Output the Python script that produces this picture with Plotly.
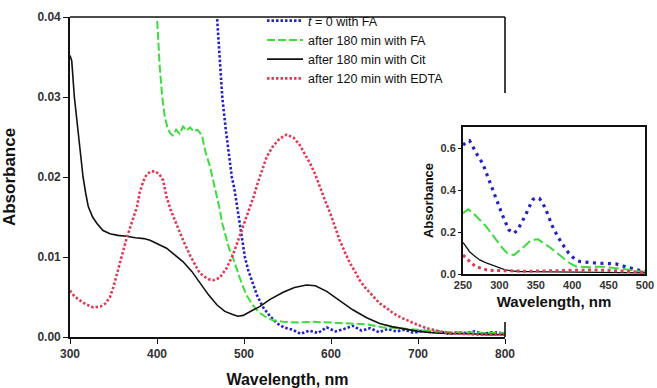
import plotly.graph_objects as go

# ---------------- main panel data ----------------
blue_w = [462, 465, 469, 472, 475, 479, 483, 486, 489, 492, 495, 498, 501, 505, 510, 515, 522, 530, 538,
          546, 556, 565, 575, 585, 595, 605, 615, 625, 635, 645, 655, 665, 675, 685, 695, 705, 715, 725,
          735, 745, 755, 765, 775, 785, 795, 800]
blue_a = [0.047, 0.044, 0.040, 0.035, 0.030, 0.026, 0.0225, 0.020, 0.0185, 0.0165, 0.0142, 0.012, 0.010,
          0.0083, 0.0068, 0.0052, 0.0037, 0.0026, 0.0017, 0.0012, 0.0009, 0.0004, 0.0008, 0.0005, 0.0012,
          0.0007, 0.0010, 0.0014, 0.0008, 0.0011, 0.0006, 0.0010, 0.0007, 0.0009, 0.0005, 0.0008, 0.0006,
          0.0007, 0.0004, 0.0006, 0.0005, 0.0007, 0.0004, 0.0006, 0.0005, 0.0004]

green_w = [396, 400, 403, 406, 409, 412, 415, 418, 422, 426, 430, 434, 438, 442, 446, 449, 452, 456, 461,
           465, 468, 472, 475, 479, 483, 487, 492, 497, 503, 510, 517, 525, 533, 545, 560, 580, 600, 620,
           640, 660, 680, 700, 720, 740, 760, 780, 800]
green_a = [0.045, 0.040, 0.034, 0.030, 0.0275, 0.0262, 0.0255, 0.0252, 0.0259, 0.0254, 0.0263, 0.0258,
           0.0262, 0.0257, 0.0259, 0.0256, 0.0250, 0.0230, 0.0213, 0.0195, 0.0180, 0.0160, 0.0142, 0.0125,
           0.0110, 0.0100, 0.0083, 0.0068, 0.0052, 0.0040, 0.0031, 0.0025, 0.0021, 0.0019, 0.0018, 0.0019,
           0.0018, 0.0017, 0.0016, 0.0012, 0.0011, 0.0009, 0.0007, 0.0006, 0.0006, 0.0005, 0.0005]

black_w = [300, 302, 305, 308, 312, 315, 318, 321, 326, 331, 338, 346, 355, 365, 375, 385, 392, 400, 411,
           420, 430, 440, 449, 459, 469, 478, 487, 493, 499, 505, 511, 518, 530, 545, 558, 572, 582, 595,
           610, 625, 641, 656, 670, 685, 700, 720, 740, 760, 780, 800]
black_a = [0.0352, 0.0345, 0.030, 0.027, 0.023, 0.020, 0.018, 0.0163, 0.0150, 0.0142, 0.0133, 0.0129,
           0.0127, 0.0126, 0.0124, 0.0123, 0.0121, 0.0117, 0.0111, 0.0103, 0.0094, 0.0082, 0.0068, 0.0053,
           0.0040, 0.0032, 0.0028, 0.0026, 0.0027, 0.0030, 0.0034, 0.0038, 0.0047, 0.0056, 0.0062, 0.0065,
           0.0064, 0.0057, 0.0046, 0.0034, 0.0024, 0.0017, 0.0013, 0.0010, 0.0007, 0.0005, 0.0004, 0.0004,
           0.0003, 0.0003]

red_w = [300, 305, 311, 318, 327, 335, 341, 346, 350, 354, 360, 365, 371, 377, 380, 384, 388, 393, 398,
         403, 407, 411, 416, 422, 430, 438, 444, 449, 455, 460, 465, 472, 480, 487, 493, 499, 505, 511,
         515, 520, 526, 533, 541, 549, 557, 564, 570, 576, 582, 587, 593, 599, 605, 610, 616, 622, 628,
         633, 639, 645, 650, 656, 664, 671, 681, 691, 700, 710, 722, 733, 750, 770, 800]
red_a = [0.0058, 0.0051, 0.0046, 0.0041, 0.0037, 0.0038, 0.0042, 0.0050, 0.0063, 0.0080, 0.0102, 0.0123,
         0.0143, 0.0163, 0.0180, 0.0194, 0.0203, 0.0207, 0.0207, 0.0203, 0.0196, 0.0175, 0.0158, 0.0142,
         0.0121, 0.0102, 0.0090, 0.0080, 0.0075, 0.0072, 0.0071, 0.0074, 0.0086, 0.0102, 0.0120, 0.0138,
         0.0157, 0.0175, 0.0190, 0.0207, 0.0225, 0.0238, 0.0248, 0.0253, 0.0249, 0.0240, 0.0229, 0.0217,
         0.0203, 0.0188, 0.0171, 0.0155, 0.0137, 0.0121, 0.0106, 0.0092, 0.0081, 0.0071, 0.0062, 0.0055,
         0.0048, 0.0042, 0.0036, 0.0030, 0.0024, 0.0019, 0.0015, 0.0011, 0.0008, 0.0005, 0.0004, 0.0003,
         0.0003]

# ---------------- inset data ----------------
in_blue_w = [250, 255, 259, 264, 270, 277, 283, 288, 293, 297, 302, 306, 310, 313, 320, 325, 331, 336, 340,
             346, 350, 355, 358, 362, 367, 371, 376, 380, 385, 389, 395, 400, 405, 411, 420, 433, 447, 460,
             473, 480, 487, 495, 500]
in_blue_a = [0.614, 0.630, 0.635, 0.600, 0.565, 0.527, 0.470, 0.424, 0.380, 0.337, 0.300, 0.265, 0.230,
             0.210, 0.194, 0.210, 0.249, 0.280, 0.313, 0.355, 0.362, 0.360, 0.345, 0.320, 0.280, 0.241,
             0.205, 0.178, 0.150, 0.130, 0.100, 0.082, 0.068, 0.059, 0.055, 0.052, 0.050, 0.048, 0.035,
             0.028, 0.020, 0.015, 0.013]

in_green_w = [250, 257, 264, 272, 282, 290, 299, 305, 311, 320, 331, 338, 344, 353, 362, 370, 380, 390, 397,
              406, 415, 424, 433, 442, 451, 460, 470, 478, 487, 495, 500]
in_green_a = [0.289, 0.308, 0.290, 0.262, 0.225, 0.188, 0.146, 0.120, 0.098, 0.090, 0.122, 0.145, 0.162,
              0.165, 0.146, 0.125, 0.098, 0.070, 0.050, 0.035, 0.033, 0.032, 0.034, 0.035, 0.031, 0.028,
              0.024, 0.020, 0.015, 0.010, 0.008]

in_black_w = [250, 254, 259, 265, 273, 281, 290, 299, 308, 317, 326, 340, 360, 380, 400, 420, 440, 460, 480,
              500]
in_black_a = [0.150, 0.128, 0.106, 0.088, 0.067, 0.054, 0.043, 0.031, 0.020, 0.015, 0.012, 0.011, 0.010,
              0.010, 0.009, 0.008, 0.007, 0.006, 0.005, 0.005]

in_red_w = [250, 253, 257, 262, 268, 275, 282, 290, 299, 310, 325, 340, 355, 370, 385, 400, 415, 430, 445,
            460, 475, 490, 500]
in_red_a = [0.090, 0.080, 0.067, 0.050, 0.035, 0.027, 0.020, 0.017, 0.016, 0.014, 0.013, 0.013, 0.014,
            0.014, 0.016, 0.018, 0.020, 0.019, 0.018, 0.016, 0.013, 0.010, 0.008]

labels = ["<i>t</i> = 0 with FA", "after 180 min with FA", "after 180 min with Cit", "after 120 min with EDTA"]

x_ticks = [300, 400, 500, 600, 700, 800]
y_ticks = [0.00, 0.01, 0.02, 0.03, 0.04]
in_x_ticks = [250, 300, 350, 400, 450, 500]
in_y_ticks = [0.0, 0.2, 0.4, 0.6]

BLUE = "#2323c8"
GREEN = "#3ddc3d"
BLACK = "#111111"
RED = "#e23a55"

fig = go.Figure()

fig.add_trace(go.Scatter(x=blue_w, y=blue_a, mode="lines", name=labels[0],
                         line=dict(color=BLUE, width=2.6, dash="2.5px,2px"), xaxis="x", yaxis="y"))
fig.add_trace(go.Scatter(x=green_w, y=green_a, mode="lines", name=labels[1],
                         line=dict(color=GREEN, width=2, dash="8px,3px"), xaxis="x", yaxis="y"))
fig.add_trace(go.Scatter(x=black_w, y=black_a, mode="lines", name=labels[2],
                         line=dict(color=BLACK, width=1.6), xaxis="x", yaxis="y"))
fig.add_trace(go.Scatter(x=red_w, y=red_a, mode="lines", name=labels[3],
                         line=dict(color=RED, width=2.6, dash="2.5px,2px"), xaxis="x", yaxis="y"))

fig.add_trace(go.Scatter(x=in_blue_w, y=in_blue_a, mode="lines", showlegend=False,
                         line=dict(color=BLUE, width=3.2, dash="3px,4.5px"), xaxis="x2", yaxis="y2"))
fig.add_trace(go.Scatter(x=in_green_w, y=in_green_a, mode="lines", showlegend=False,
                         line=dict(color=GREEN, width=2, dash="10px,4px"), xaxis="x2", yaxis="y2"))
fig.add_trace(go.Scatter(x=in_black_w, y=in_black_a, mode="lines", showlegend=False,
                         line=dict(color=BLACK, width=1.3), xaxis="x2", yaxis="y2"))
fig.add_trace(go.Scatter(x=in_red_w, y=in_red_a, mode="lines", showlegend=False,
                         line=dict(color=RED, width=3, dash="3px,3.5px"), xaxis="x2", yaxis="y2"))

W, H = 657, 388
def px_x(p):
    return p / W
def px_y(p):
    return 1 - p / H

tick_font = dict(family="Liberation Sans, Arial, sans-serif", size=12, color="#333333", weight="bold")
title_font = dict(family="Liberation Sans, Arial, sans-serif", size=17, color="#111111", weight="bold")

fig.update_layout(
    width=W, height=H,
    margin=dict(l=0, r=0, t=0, b=0, autoexpand=False),
    paper_bgcolor="white", plot_bgcolor="white",
    showlegend=True,
    legend=dict(x=px_x(262), y=px_y(6), xanchor="left", yanchor="top",
                bgcolor="rgba(0,0,0,0)", borderwidth=0,
                font=dict(family="Liberation Sans, Arial, sans-serif", size=12.5, color="#111111"),
                tracegroupgap=0, itemwidth=36),
    xaxis=dict(domain=[px_x(70), px_x(505)], range=[300, 800], tickvals=x_ticks, automargin=False,
               showline=True, linecolor="#111111", linewidth=1.6, mirror=False,
               ticks="outside", ticklen=5, tickwidth=1.4, tickcolor="#111111",
               showgrid=False, zeroline=False, tickfont=tick_font,
               title=dict(text="Wavelength, nm", font=dict(title_font, size=16), standoff=14),
               anchor="y"),
    yaxis=dict(domain=[px_y(337), px_y(17)], range=[0, 0.04], tickvals=y_ticks, tickformat=".2f",
               automargin=False,
               showline=True, linecolor="#111111", linewidth=1.6, mirror=False,
               ticks="outside", ticklen=5, tickwidth=1.4, tickcolor="#111111",
               showgrid=False, zeroline=False, tickfont=tick_font,
               title=dict(text="Absorbance", font=title_font, standoff=20),
               anchor="x"),
    xaxis2=dict(domain=[px_x(463), px_x(645)], range=[250, 500], tickvals=in_x_ticks, automargin=False,
                showline=True, linecolor="#111111", linewidth=2, mirror=True,
                ticks="", showgrid=False, zeroline=False, ticklabeloverflow="allow",
                tickfont=dict(tick_font, size=11),
                title=dict(text="Wavelength, nm", font=dict(title_font, size=15), standoff=6),
                anchor="y2"),
    yaxis2=dict(domain=[px_y(274), px_y(127)], range=[0, 0.7], tickvals=in_y_ticks, tickformat=".1f",
                automargin=False,
                showline=True, linecolor="#111111", linewidth=2, mirror=True,
                ticks="outside", ticklen=3, tickwidth=1.2, tickcolor="#111111",
                showgrid=False, zeroline=False,
                tickfont=dict(tick_font, size=11),
                title=dict(text="Absorbance", font=dict(title_font, size=13), standoff=4),
                anchor="x2"),
)

# frame of the main panel: top edge and the visible pieces of the right edge
frame = dict(type="line", xref="x domain", yref="y domain", line=dict(color="#111111", width=1.6))
fig.add_shape(frame, x0=0, x1=1, y0=1, y1=1)
fig.add_shape(frame, x0=1, x1=1, y0=1, y1=(337 - 93) / 320)
fig.add_shape(frame, x0=1, x1=1, y0=0, y1=(337 - 322) / 320)

# remove the browser's default 8px body margin so the figure fills the window exactly
fig.write_html("out.html", config={"displayModeBar": False},
               post_script="document.body.style.margin='0';document.body.style.overflow='hidden';")
